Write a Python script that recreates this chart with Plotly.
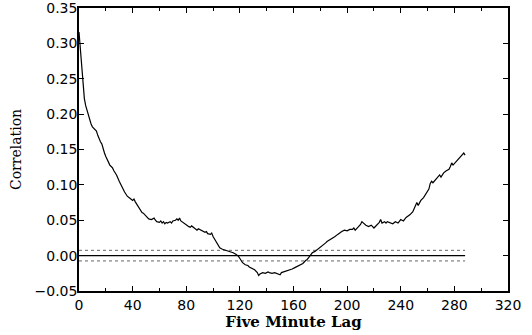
import plotly.graph_objects as go

lags = [0,1,2,3,4,5,6,7,8,9,10,11,12,13,14,15,16,17,18,19,20,21,22,23,24,25,26,27,28,30,32,33,34,36,37,38,40,41,42,44,46,47,48,50,52,54,56,57,58,60,61,62,63,64,65,66,68,69,70,72,73,74,75,76,78,80,82,83,84,86,88,89,90,92,94,95,96,98,99,100,102,103,104,105,107,109,111,113,115,117,119,120,121,122,124,126,127,129,131,133,134,135,137,139,141,142,144,146,148,150,151,153,155,157,159,161,163,165,167,169,170,172,174,176,178,180,182,184,185,187,189,191,193,195,196,198,200,202,204,205,206,208,210,211,212,214,216,218,220,222,224,225,226,228,229,230,232,234,236,238,240,242,244,246,247,249,250,252,253,255,257,259,260,261,262,263,264,266,268,269,270,272,274,276,277,278,279,281,282,283,285,286,287,288]
corr = [0.316,0.29,0.26,0.24,0.222,0.212,0.205,0.199,0.192,0.186,0.182,0.180,0.178,0.176,0.170,0.165,0.161,0.158,0.150,0.145,0.140,0.136,0.131,0.128,0.126,0.124,0.120,0.117,0.114,0.105,0.097,0.093,0.090,0.084,0.082,0.081,0.078,0.080,0.076,0.070,0.064,0.061,0.060,0.056,0.052,0.051,0.053,0.050,0.048,0.047,0.049,0.046,0.048,0.045,0.047,0.046,0.048,0.046,0.049,0.050,0.052,0.050,0.053,0.049,0.046,0.044,0.041,0.040,0.042,0.039,0.036,0.038,0.037,0.035,0.033,0.034,0.031,0.030,0.032,0.027,0.021,0.018,0.014,0.011,0.009,0.008,0.007,0.006,0.004,0.002,-0.001,-0.004,-0.008,-0.010,-0.013,-0.014,-0.016,-0.018,-0.020,-0.024,-0.028,-0.026,-0.024,-0.025,-0.023,-0.024,-0.025,-0.024,-0.026,-0.027,-0.024,-0.023,-0.022,-0.020,-0.019,-0.017,-0.015,-0.013,-0.011,-0.007,-0.006,-0.001,0.004,0.006,0.009,0.011,0.014,0.018,0.020,0.022,0.025,0.027,0.030,0.033,0.034,0.036,0.035,0.037,0.037,0.039,0.036,0.040,0.044,0.048,0.046,0.043,0.041,0.043,0.039,0.043,0.047,0.051,0.046,0.048,0.046,0.048,0.047,0.045,0.048,0.046,0.051,0.049,0.054,0.056,0.058,0.062,0.066,0.075,0.071,0.078,0.082,0.088,0.090,0.094,0.102,0.105,0.103,0.108,0.112,0.114,0.111,0.117,0.120,0.122,0.126,0.131,0.128,0.132,0.135,0.136,0.140,0.143,0.145,0.142]

ref_x = [0, 288]
zero_level = [0.0, 0.0]
upper_band = [0.0075, 0.0075]
lower_band = [-0.0075, -0.0075]

x_ticks = [0, 40, 80, 120, 160, 200, 240, 280, 320]
y_ticks = [-0.05, 0.00, 0.05, 0.10, 0.15, 0.20, 0.25, 0.30, 0.35]

fig = go.Figure()
fig.add_trace(go.Scatter(x=ref_x, y=upper_band, mode="lines",
                         line=dict(color="#666", width=1, dash="dot"), hoverinfo="skip"))
fig.add_trace(go.Scatter(x=ref_x, y=lower_band, mode="lines",
                         line=dict(color="#666", width=1, dash="dot"), hoverinfo="skip"))
fig.add_trace(go.Scatter(x=ref_x, y=zero_level, mode="lines",
                         line=dict(color="black", width=1.3), hoverinfo="skip"))
fig.add_trace(go.Scatter(x=lags, y=corr, mode="lines",
                         line=dict(color="black", width=1.2)))

axis_common = dict(showline=True, linecolor="black", linewidth=1.5, mirror="ticks",
                   ticks="inside", ticklen=5, tickcolor="black", showgrid=False,
                   zeroline=False, automargin=False, ticklabeloverflow="allow",
                   tickfont=dict(family="DejaVu Sans", size=14, color="black"))

fig.update_xaxes(range=[0, 320], tickvals=x_ticks, ticktext=[str(v) for v in x_ticks],
                 minor=dict(dtick=20, tick0=0, ticks="inside", ticklen=3, tickcolor="black"),
                 title=dict(text="<b>Five Minute Lag</b>", standoff=0,
                            font=dict(family="DejaVu Serif", size=15, color="black")),
                 **axis_common)
fig.update_yaxes(range=[-0.05, 0.35], tickvals=y_ticks, tickformat=".2f",
                 ticklabelstandoff=-3,
                 title=dict(text="Correlation", standoff=10,
                            font=dict(family="DejaVu Serif", size=14, color="black")),
                 **axis_common)

fig.update_layout(width=532, height=335, showlegend=False,
                  margin=dict(l=79, r=24, t=8, b=44),
                  paper_bgcolor="white", plot_bgcolor="white")
fig.write_html("out.html", config={"displayModeBar": False},
               post_script="document.body.style.margin='0';")
